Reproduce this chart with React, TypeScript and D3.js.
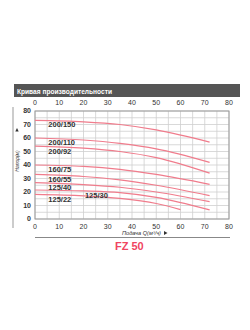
import React from "react";
import * as d3 from "d3";

const flowQ = [0, 20, 35, 50, 72];
const flowQShort = [0, 20, 35, 50, 60];
const h200_150 = [73, 72, 70, 66, 57];
const h200_110 = [60, 58.5, 56, 52, 42];
const h200_92 = [54, 52.5, 50, 45.5, 34];
const h160_75 = [40, 39, 36.8, 33, 25.7];
const h160_55 = [33, 31.5, 29, 25, 17.3];
const h125_40 = [27, 25.5, 23.5, 20, 12.8];
const h125_30 = [21.5, 20.8, 19.5, 16, 6.7];
const h125_22 = [18.3, 17.2, 15.3, 11.5, 7];

const seriesNames = ["200/150", "200/110", "200/92", "160/75", "160/55", "125/40", "125/30", "125/22"];
const seriesValues = [h200_150, h200_110, h200_92, h160_75, h160_55, h125_40, h125_30, h125_22];
const seriesQ = [flowQ, flowQ, flowQ, flowQ, flowQ, flowQ, flowQ, flowQShort];
const labelQ = [5.5, 5.5, 5.5, 5.5, 5.5, 5.5, 20.6, 5.5];
const labelH = [70.2, 56.6, 49.8, 36.8, 29.4, 23.5, 17.8, 14.6];

const xTicks = [0, 10, 20, 30, 40, 50, 60, 70, 80];
const yTicks = [0, 10, 20, 30, 40, 50, 60, 70, 80];
const gridSteps = d3.range(0, 81, 5);

const title = "Кривая производительности";
const xTitle = "Подача Q(м³/ч)";
const yTitle = "Напор(м)";
const model = "FZ 50";

export default function App() {
  const x = d3.scaleLinear().domain([0, 80]).range([35, 229]);
  const y = d3.scaleLinear().domain([0, 80]).range([219, 111]);
  const line = d3
    .line<[number, number]>()
    .x((d) => x(d[0]))
    .y((d) => y(d[1]))
    .curve(d3.curveMonotoneX);
  const font = "'Liberation Sans', Arial, sans-serif";
  return (
    <svg
      width={250}
      height={330}
      style={{ position: "absolute", left: 0, top: 0, background: "#fff" }}
      fontFamily={font}
    >
      <rect x={0} y={0} width={250} height={330} fill="#fff" />
      {/* title bar */}
      <rect x={14} y={84} width={226} height={13} fill="#555" />
      <text x={17} y={93.5} fill="#fff" fontSize={7.5} fontWeight="bold" textLength={95} lengthAdjust="spacingAndGlyphs">
        {title}
      </text>
      {/* grid */}
      {gridSteps.map((v) => (
        <line key={"gx" + v} x1={x(v)} x2={x(v)} y1={y(0)} y2={y(80)} stroke="#cfcfcf" strokeWidth={0.8} />
      ))}
      {gridSteps.map((v) => (
        <line key={"gy" + v} x1={x(0)} x2={x(80)} y1={y(v)} y2={y(v)} stroke="#cfcfcf" strokeWidth={0.8} />
      ))}
      <rect x={x(0)} y={y(80)} width={x(80) - x(0)} height={y(0) - y(80)} fill="none" stroke="#9a9a9a" strokeWidth={1} />
      {/* ticks */}
      {xTicks.map((v) => (
        <text key={"tt" + v} x={x(v)} y={105} fontSize={7} fill="#333" textAnchor="middle">
          {v}
        </text>
      ))}
      {xTicks.map((v) => (
        <text key={"tb" + v} x={x(v)} y={229} fontSize={7} fill="#333" textAnchor="middle">
          {v}
        </text>
      ))}
      {yTicks.map((v) => (
        <text key={"ty" + v} x={31} y={y(v)} dy="0.35em" fontSize={7} fill="#333" textAnchor="end" fontWeight="bold">
          {v}
        </text>
      ))}
      {/* curves */}
      {seriesValues.map((vals, i) => (
        <path
          key={"c" + i}
          d={line(vals.map((h, j) => [seriesQ[i][j], h] as [number, number])) || ""}
          fill="none"
          stroke="#f07c8c"
          strokeWidth={1.2}
        />
      ))}
      {seriesNames.map((n, i) => (
        <text key={"l" + i} x={x(labelQ[i])} y={y(labelH[i])} dy="0.35em" fontSize={7.5} fill="#333" fontWeight="bold">
          {n}
        </text>
      ))}
      {/* y axis title */}
      <line x1={13} x2={13} y1={107} y2={228} stroke="#999" strokeWidth={1} />
      <path d="M17,128 L15.3,131.5 L18.7,131.5 Z" fill="#333" />
      <text transform="translate(18.5,161) rotate(-90)" fontSize={5} fill="#333" textAnchor="middle" fontStyle="italic">
        {yTitle}
      </text>
      {/* x axis title */}
      <text x={122} y={235} fontSize={5.2} fill="#333" fontStyle="italic" textLength={39} lengthAdjust="spacingAndGlyphs">
        {xTitle}
      </text>
      <path d="M164,231 L167.5,233 L164,235 Z" fill="#333" />
      <line x1={35} x2={230} y1={237.5} y2={237.5} stroke="#888" strokeWidth={1} />
      <text x={115} y={250} fontSize={11} fontWeight="bold" fill="#f0455f">
        {model}
      </text>
    </svg>
  );
}
